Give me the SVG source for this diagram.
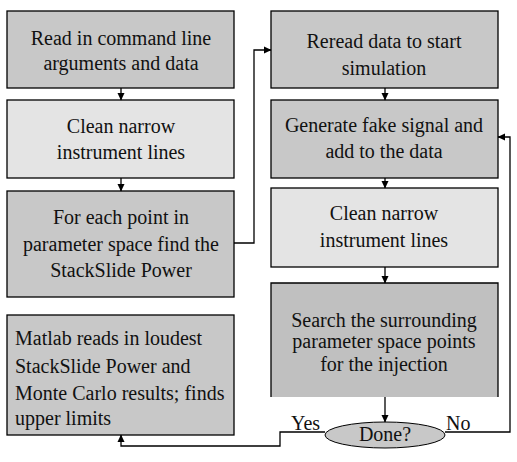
<svg xmlns="http://www.w3.org/2000/svg" width="517" height="462" viewBox="0 0 517 462">
<defs>
<style>
.box{stroke:#000;stroke-width:1.3}
.dark{fill:#c8c8c8}
.light{fill:#e4e4e4}
.darker{fill:#c0c0c0}
text{font-size:20px;fill:#111;font-family:"Liberation Serif","Times New Roman",serif}
.c{text-anchor:middle}
.conn{fill:none;stroke:#000;stroke-width:1.3}
</style>
<marker id="ah" markerWidth="8" markerHeight="8" refX="7" refY="4" orient="auto" markerUnits="userSpaceOnUse">
<path d="M0,0.5 L7.5,4 L0,7.5 Z" fill="#000"/>
</marker>
</defs>
<rect width="517" height="462" fill="#fff"/>
<g id="n1"><rect class="box dark" x="7" y="11" width="227" height="77"/>
<text class="c" x="121" y="45">Read in command line</text><text class="c" x="121" y="70">arguments and data</text></g>
<g id="n2"><rect class="box light" x="7" y="100" width="227" height="78"/>
<text class="c" x="121" y="133">Clean narrow</text><text class="c" x="121" y="159">instrument lines</text></g>
<g id="n3"><rect class="box dark" x="7" y="191" width="227" height="106"/>
<text class="c" x="121" y="224">For each point in</text><text class="c" x="121" y="251">parameter space find the</text><text class="c" x="121" y="277">StackSlide Power</text></g>
<g id="n4"><rect class="box dark" x="7" y="315" width="227" height="120"/>
<text x="15" y="345">Matlab reads in loudest</text><text x="15" y="373">StackSlide Power and</text><text x="15" y="400">Monte Carlo results; finds</text><text x="15" y="425">upper limits</text></g>
<g id="r1"><rect class="box dark" x="271" y="11" width="227" height="77"/>
<text class="c" x="384" y="48">Reread data to start</text><text class="c" x="384" y="75">simulation</text></g>
<g id="r2"><rect class="box dark" x="271" y="100" width="227" height="78"/>
<text class="c" x="384" y="132">Generate fake signal and</text><text class="c" x="384" y="158">add to the data</text></g>
<g id="r3"><rect class="box light" x="271" y="188" width="227" height="79"/>
<text class="c" x="384" y="220">Clean narrow</text><text class="c" x="384" y="247">instrument lines</text></g>
<g id="r4"><rect class="darker" x="271" y="283" width="227" height="114"/>
<path class="conn" d="M271,397 V283 H498 V397"/>
<text class="c" x="384" y="327">Search the surrounding</text><text class="c" x="384" y="348">parameter space points</text><text class="c" x="384" y="371">for the injection</text></g>
<g id="done"><ellipse cx="385" cy="435" rx="60" ry="13" fill="#c8c8c8" stroke="#000" stroke-width="1"/>
<text class="c" x="385" y="441">Done?</text></g>
<g id="labels"><text x="291" y="430">Yes</text><text x="446" y="430">No</text></g>
<g id="connectors">
<path class="conn" d="M121,88 V100" marker-end="url(#ah)"/>
<path class="conn" d="M121,178 V191" marker-end="url(#ah)"/>
<path class="conn" d="M385,88 V100" marker-end="url(#ah)"/>
<path class="conn" d="M385,178 V188" marker-end="url(#ah)"/>
<path class="conn" d="M385,267 V283" marker-end="url(#ah)"/>
<path class="conn" d="M385,397 V422" marker-end="url(#ah)"/>
<path class="conn" d="M234,243 H254 V50 H271" marker-end="url(#ah)"/>
<path class="conn" d="M445,432 H510 V137 H498" marker-end="url(#ah)"/>
<path class="conn" d="M325,432 H280 V446 H121 V435" marker-end="url(#ah)"/>
</g>
</svg>
